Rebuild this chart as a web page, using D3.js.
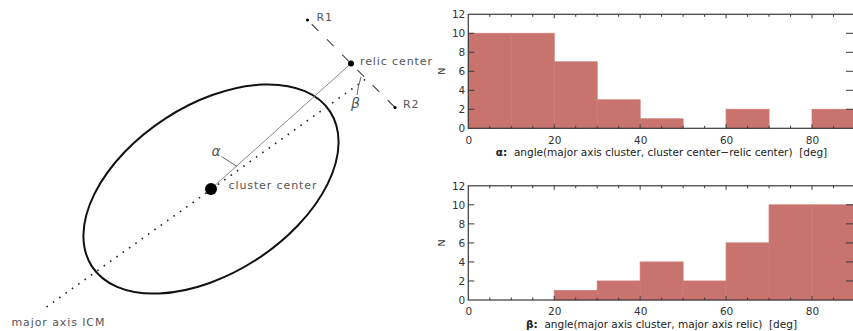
<!DOCTYPE html>
<html>
<head>
<meta charset="utf-8">
<script src="https://cdn.jsdelivr.net/npm/d3@7"></script>
<style>
  html, body { margin: 0; padding: 0; background: #fff; }
  svg { display: block; }
  text { font-family: "DejaVu Sans", sans-serif; }
</style>
</head>
<body>
<svg id="fig" width="853" height="331"></svg>
<script>
// Histogram bins: 10-degree bins from 0 to 90 degrees
const binEdges = [0, 10, 20, 30, 40, 50, 60, 70, 80, 90];
const alphaCounts = [10, 10, 7, 3, 1, 0, 2, 0, 2];
const betaCounts = [0, 0, 1, 2, 4, 2, 6, 10, 10];
const xTickLabels = [0, 20, 40, 60, 80];
const yTickLabels = [0, 2, 4, 6, 8, 10, 12];
const alphaTitle = "angle(major axis cluster, cluster center\u2212relic center)\u00a0\u00a0[deg]";
const betaTitle = "angle(major axis cluster, major axis relic)\u00a0\u00a0[deg]";

const svg = d3.select("#fig");

// ---------- schematic of cluster / relic geometry ----------
const sk = svg.append("g");
const cluster = [211, 189];
const relic = [351, 63.5];
const R1 = [307.5, 20];
const R2 = [395, 107.5];
const axisStart = [46.5, 307];
const axisEnd = [366.5, 78.5];

// ICM ellipse around the cluster centre
sk.append("ellipse")
  .attr("cx", 0).attr("cy", 0).attr("rx", 142).attr("ry", 84)
  .attr("transform", `translate(${cluster[0]},${cluster[1]}) rotate(-33)`)
  .attr("fill", "none").attr("stroke", "#111").attr("stroke-width", 2);

const line = d3.line();

// major axis (dotted)
sk.append("path").attr("d", line([axisStart, axisEnd]))
  .attr("stroke", "#222").attr("stroke-width", 1.6)
  .attr("stroke-dasharray", "1.6,6.2").attr("fill", "none");

// cluster centre -> relic centre
sk.append("path").attr("d", line([cluster, relic]))
  .attr("stroke", "#8a8a8a").attr("stroke-width", 1).attr("fill", "none");

// relic major axis (dashed) R1 - R2
sk.append("path").attr("d", line([R1, R2]))
  .attr("stroke", "#444").attr("stroke-width", 1.1)
  .attr("stroke-dasharray", "9.5,12").attr("stroke-dashoffset", 15.5)
  .attr("fill", "none");

// angle markers
sk.append("path").attr("d", line([[221.5, 156.5], [237, 166.5]]))
  .attr("stroke", "#666").attr("stroke-width", 1).attr("fill", "none");
sk.append("path").attr("d", "M361,77 Q358,86 357,95")
  .attr("stroke", "#666").attr("stroke-width", 1).attr("fill", "none");

// points
sk.append("circle").attr("cx", cluster[0]).attr("cy", cluster[1]).attr("r", 6).attr("fill", "#000");
sk.append("circle").attr("cx", relic[0]).attr("cy", relic[1]).attr("r", 3).attr("fill", "#000");
sk.append("circle").attr("cx", R1[0]).attr("cy", R1[1]).attr("r", 1.6).attr("fill", "#000");
sk.append("circle").attr("cx", R2[0]).attr("cy", R2[1]).attr("r", 1.6).attr("fill", "#000");

// labels
const skLabel = (x, y, t) => sk.append("text").attr("x", x).attr("y", y)
  .attr("font-size", 11).attr("letter-spacing", 0.9).attr("fill", "#555").text(t);
skLabel(360, 64.5, "relic center");
skLabel(228.5, 189, "cluster center");
skLabel(316.5, 20.5, "R1");
skLabel(403, 108, "R2");
skLabel(11.5, 325.5, "major axis ICM");
sk.append("text").attr("x", 216).attr("y", 156).attr("text-anchor", "middle")
  .attr("font-size", 14).attr("font-style", "italic").attr("fill", "#555").text("\u03b1");
sk.append("text").attr("x", 355.5).attr("y", 108).attr("text-anchor", "middle")
  .attr("font-size", 14).attr("font-style", "italic").attr("fill", "#555").text("\u03b2");

// ---------- histograms ----------
const x = d3.scaleLinear().domain([0, 90]).range([468.3, 855]);

function histogram(counts, yTop, yBottom, symbol, title) {
  const y = d3.scaleLinear().domain([0, 12]).range([yBottom, yTop]);
  const g = svg.append("g");
  const bins = counts.map((c, i) => ({ x0: binEdges[i], x1: binEdges[i + 1], n: c }));

  g.selectAll("rect.bar").data(bins.filter(d => d.n > 0)).join("rect")
    .attr("class", "bar")
    .attr("x", d => x(d.x0)).attr("width", d => x(d.x1) - x(d.x0))
    .attr("y", d => y(d.n)).attr("height", d => y(0) - y(d.n))
    .attr("fill", "#c9736e").attr("stroke", "#cd7b76").attr("stroke-width", 0.8);

  const stroke = "#3a3a3a";
  // bottom axis with labels
  const bottom = d3.axisBottom(x).tickValues(xTickLabels).tickSize(0).tickPadding(8)
    .tickFormat(d3.format("d"));
  const ba = g.append("g").attr("transform", `translate(0,${y(0)})`).call(bottom);
  ba.select(".domain").remove();
  ba.selectAll("text").attr("font-size", 10.5).attr("fill", "#333").attr("font-family", "DejaVu Sans");

  // left axis with labels
  const left = d3.axisLeft(y).tickValues(yTickLabels).tickSize(0).tickPadding(3)
    .tickFormat(d3.format("d"));
  const la = g.append("g").attr("transform", `translate(${x(0)},0)`).call(left);
  la.select(".domain").remove();
  la.selectAll("text").attr("font-size", 10.5).attr("fill", "#333").attr("font-family", "DejaVu Sans");

  // frame
  g.append("rect").attr("x", x(0)).attr("y", y(12))
    .attr("width", x(90) - x(0)).attr("height", y(0) - y(12))
    .attr("fill", "none").attr("stroke", stroke).attr("stroke-width", 1.2);

  // inward ticks on x (every 5 deg) top and bottom
  const xt = d3.range(5, 90, 5);
  g.selectAll("line.xb").data(xt).join("line")
    .attr("x1", d => x(d)).attr("x2", d => x(d))
    .attr("y1", y(0)).attr("y2", d => y(0) - (d % 20 === 0 ? 4 : 2.5))
    .attr("stroke", stroke).attr("stroke-width", 1);
  g.selectAll("line.xt").data(xt).join("line")
    .attr("x1", d => x(d)).attr("x2", d => x(d))
    .attr("y1", y(12)).attr("y2", d => y(12) + (d % 20 === 0 ? 4 : 2.5))
    .attr("stroke", stroke).attr("stroke-width", 1);
  // inward ticks on y, left and right
  const yt = yTickLabels.slice(1, -1);
  g.selectAll("line.yl").data(yt).join("line")
    .attr("x1", x(0)).attr("x2", x(0) + 6).attr("y1", d => y(d)).attr("y2", d => y(d))
    .attr("stroke", stroke).attr("stroke-width", 1);
  g.selectAll("line.yr").data(yt).join("line")
    .attr("x1", 853).attr("x2", 846).attr("y1", d => y(d)).attr("y2", d => y(d))
    .attr("stroke", stroke).attr("stroke-width", 1);

  // y label
  const ym = (yTop + yBottom) / 2;
  g.append("text").attr("transform", `translate(445,${ym}) rotate(-90)`)
    .attr("text-anchor", "middle").attr("font-size", 9.5).attr("fill", "#333").text("N");

  // x title
  const t = g.append("text").attr("x", 661.5).attr("y", yBottom + 28)
    .attr("text-anchor", "middle").attr("font-size", 10.5)
    .attr("fill", "#222");
  t.append("tspan").attr("font-weight", "bold").text(symbol + ":");
  t.append("tspan").text("\u00a0\u00a0" + title);
}

histogram(alphaCounts, 14.3, 128.3, "\u03b1", alphaTitle);
histogram(betaCounts, 185.8, 300, "\u03b2", betaTitle);
</script>
</body>
</html>
